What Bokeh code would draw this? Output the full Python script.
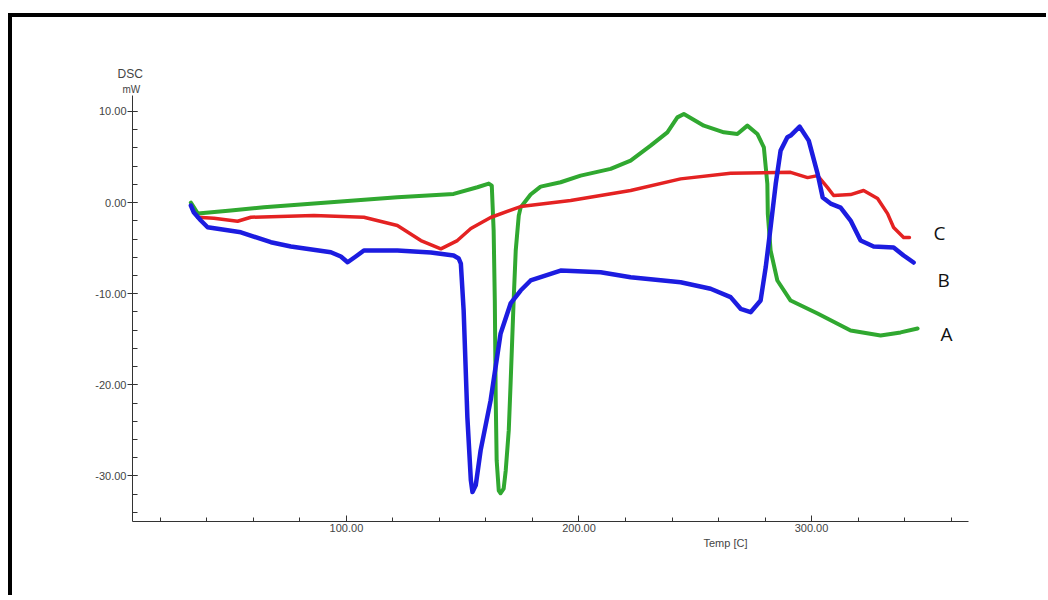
from bokeh.plotting import figure
from bokeh.models import Range1d, FixedTicker, PrintfTickFormatter, Label, Title
from bokeh.embed import file_html
from bokeh.resources import INLINE

# ---- data ----
temp_A = [33.1, 36.1, 50.3, 64.5, 93.3, 121.9, 146.1, 156.3, 161.2, 162.5, 163.3, 163.8, 164.2, 164.6,
          165.5, 166.3, 167.6, 168.5, 169.8, 170.6, 171.9, 172.8, 174.1, 174.9, 179.2, 183.5, 192.1,
          200.7, 213.6, 222.2, 230.8, 238.0, 242.3, 245.1, 253.7, 262.3, 268.1, 272.4, 276.7, 279.5,
          281.0, 281.2, 282.4, 285.3, 291.0, 302.6, 316.8, 329.7, 338.3, 345.6]
dsc_A = [0.0, -1.21, -0.88, -0.52, 0.03, 0.58, 0.95, 1.68, 2.08, 1.86, -3.07, -10.75, -21.7, -28.3,
         -31.6, -31.9, -31.4, -29.4, -25.0, -19.8, -10.75, -5.26, -1.43, -0.55, 0.88, 1.75, 2.23,
         2.96, 3.70, 4.61, 6.25, 7.71, 9.35, 9.73, 8.44, 7.71, 7.53, 8.44, 7.53, 6.06,
         2.05, -1.24, -5.26, -8.55, -10.75, -12.17, -14.04, -14.58, -14.25, -13.82]

temp_B = [33.1, 34.4, 37.4, 40.3, 54.6, 67.5, 76.1, 93.3, 97.6, 100.5, 104.0, 107.5, 121.9, 136.3,
          146.1, 148.3, 149.2, 150.4, 152.0, 153.5, 154.2, 155.6, 157.7, 162.0, 166.3, 170.6, 174.9,
          179.2, 192.1, 209.3, 222.2, 243.7, 256.6, 265.2, 269.5, 273.8, 278.1, 280.3, 282.4, 284.6,
          286.7, 289.6, 291.0, 294.9, 298.8, 302.6, 304.8, 308.2, 312.5, 316.8, 321.1, 326.7, 335.3,
          339.6, 343.9]
dsc_B = [-0.33, -1.10, -1.97, -2.71, -3.26, -4.35, -4.82, -5.45, -5.92, -6.55, -5.92, -5.26, -5.26, -5.48,
         -5.81, -6.14, -6.69, -11.84, -23.54, -30.48, -31.77, -31.03, -27.19, -21.71, -14.36, -11.07, -9.65,
         -8.55, -7.46, -7.64, -8.19, -8.74, -9.46, -10.38, -11.66, -12.03, -10.75, -7.09, -2.71, 2.05,
         5.70, 7.16, 7.35, 8.33, 6.80, 3.18, 0.55, -0.11, -0.55, -1.97, -4.17, -4.82, -4.93,
         -5.81, -6.58]

temp_C = [36.0, 43.0, 53.2, 58.9, 86.0, 107.5, 121.9, 132.0, 140.6, 147.7, 153.5, 162.0, 174.9, 196.4,
          222.2, 243.7, 265.2, 291.0, 298.3, 302.6, 306.9, 309.5, 316.8, 322.4, 328.4, 332.7, 335.3,
          339.6, 342.1]
dsc_C = [-1.61, -1.72, -2.05, -1.61, -1.43, -1.61, -2.52, -4.17, -5.08, -4.17, -2.85, -1.64, -0.44, 0.22,
         1.32, 2.60, 3.21, 3.32, 2.74, 2.96, 1.64, 0.77, 0.88, 1.32, 0.44, -1.21, -2.74,
         -3.84, -3.84]

x_major = [100, 200, 300]
x_minor = list(range(20, 361, 20))
y_major = [-30, -20, -10, 0, 10]
y_minor = list(range(-34, 11, 2))

series_names = ["A", "B", "C"]
name_pos_x = [358.0, 356.8, 355.0]
name_pos_y = [-14.47, -8.55, -3.29]

# ---- figure ----
p = figure(output_backend="svg", toolbar_location=None,
           frame_width=836, frame_height=426,
           min_border_left=120, min_border_right=78,
           min_border_top=78, min_border_bottom=74,
           x_range=Range1d(8, 367.5), y_range=Range1d(-35, 11.75),
           background_fill_color="white", border_fill_color="white")
p.outline_line_color = None
p.grid.visible = False
p.styles = {"border-top": "4px solid black", "border-left": "4px solid black",
            "margin-top": "13px", "margin-left": "8px"}

for ax in (p.xaxis[0], p.yaxis[0]):
    ax.axis_line_color = "#333333"
    ax.major_tick_line_color = "#333333"
    ax.minor_tick_line_color = "#333333"
    ax.major_label_text_font = "Liberation Sans"
    ax.major_label_text_font_size = "11px"
    ax.major_label_text_color = "#444444"
    ax.formatter = PrintfTickFormatter(format="%.2f")

p.xaxis.ticker = FixedTicker(ticks=x_major, minor_ticks=x_minor)
p.xaxis.major_tick_in = 6
p.xaxis.major_tick_out = 0
p.xaxis.minor_tick_in = 4
p.xaxis.minor_tick_out = 0
p.xaxis.major_label_standoff = 2

p.yaxis.ticker = FixedTicker(ticks=y_major, minor_ticks=y_minor)
p.yaxis.major_tick_in = 5
p.yaxis.major_tick_out = 5
p.yaxis.minor_tick_in = 5
p.yaxis.minor_tick_out = 0
p.yaxis.major_label_standoff = 1

p.line(temp_A, dsc_A, line_color="#30a830", line_width=4, line_join="round", line_cap="round")
p.line(temp_C, dsc_C, line_color="#e42222", line_width=3.5, line_join="round", line_cap="round")
p.line(temp_B, dsc_B, line_color="#1c1ce0", line_width=4.5, line_join="round", line_cap="round")

for nm, xx, yy in zip(series_names, name_pos_x, name_pos_y):
    p.add_layout(Label(x=xx, y=yy, text=nm, text_align="center", text_baseline="middle",
                       text_font="Open Sans", text_font_size="19px", text_color="#111111"))

# axis captions as side-panel titles (labels outside the frame are clipped)
p.add_layout(Title(text="mW", align="left", offset=-10, standoff=2,
                   text_font="Liberation Sans", text_font_size="10px", text_font_style="normal",
                   text_color="#444444"), "above")
p.add_layout(Title(text="DSC", align="left", offset=-15, standoff=0,
                   text_font="Liberation Sans", text_font_size="12px", text_font_style="normal",
                   text_color="#444444"), "above")
p.add_layout(Title(text="Temp  [C]", align="left", offset=571, standoff=0,
                   text_font="Liberation Sans", text_font_size="11px", text_font_style="normal",
                   text_color="#444444"), "below")

open("out.html", "w").write(file_html(p, INLINE))
